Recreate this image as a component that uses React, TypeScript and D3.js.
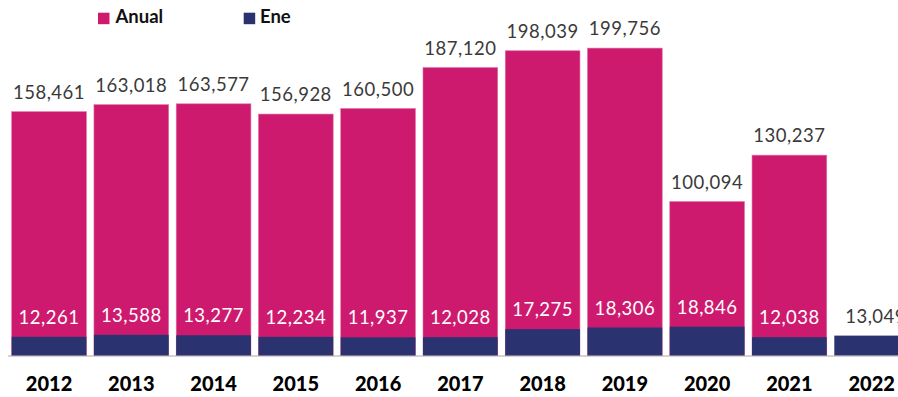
import React from "react";
import * as d3 from "d3";

const years = ["2012","2013","2014","2015","2016","2017","2018","2019","2020","2021","2022"];
const anual = [158461,163018,163577,156928,160500,187120,198039,199756,100094,130237,null];
const ene = [12261,13588,13277,12234,11937,12028,17275,18306,18846,12038,13049];

const W = 898, H = 397;
const PINK = "#CE1A6E";
const NAVY = "#2B3270";
const FONT = "Lato, 'Open Sans', sans-serif";

export default function App() {
  const step = 82.26;
  const pad = 0.092;
  const x = d3.scaleBand<string>().domain(years).range([11.7, 11.7 + step * (years.length - pad)]).paddingInner(pad).paddingOuter(0);
  const y = d3.scaleLinear().domain([0, 231000]).range([355.7, 0]);
  const fmt = d3.format(",");
  const bw = x.bandwidth();
  return (
    <div style={{ position: "absolute", left: 0, top: 0, width: W, height: H, overflow: "hidden" }}>
      <svg width={W} height={H} style={{ display: "block", fontFamily: FONT }}>
        <rect width={W} height={H} fill="#fff" />
        {/* legend */}
        <rect x={98} y={12.7} width={11.5} height={11.5} fill={PINK} />
        <text x={115.5} y={23.3} fontSize={18.5} fontWeight={700} fill="#111">Anual</text>
        <rect x={243.7} y={12.7} width={11.5} height={11.5} fill={NAVY} />
        <text x={260} y={23.3} fontSize={18.5} fontWeight={700} fill="#111">Ene</text>
        {years.map((yr, i) => {
          const bx = x(yr)!;
          const cx = bx + bw / 2;
          const a = anual[i];
          const e = ene[i];
          return (
            <g key={yr}>
              {a != null && (
                <rect x={bx} y={y(a)} width={bw} height={y(0) - y(a)} fill={PINK} stroke="#e070a0" strokeWidth={0.6} />
              )}
              <rect x={bx} y={y(e)} width={bw} height={y(0) - y(e)} fill={NAVY} />
              {a != null && (
                <text x={cx} y={y(a) - 13} textAnchor="middle" fontSize={18.5} letterSpacing={0.5} fill="#3a3a3a">{fmt(a)}</text>
              )}
              <text x={cx + (a == null ? 4 : 0)} y={y(e) - 13} textAnchor="middle" fontSize={18.5} letterSpacing={0.5} fill={a == null ? "#3a3a3a" : "#fff"}>{fmt(e)}</text>
              <text x={cx} y={391} textAnchor="middle" fontSize={20} fontWeight={900} fill="#000">{yr}</text>
            </g>
          );
        })}
        <line x1={8} x2={W} y1={356} y2={356} stroke="#a8a8a8" strokeWidth={1.2} />
      </svg>
    </div>
  );
}
